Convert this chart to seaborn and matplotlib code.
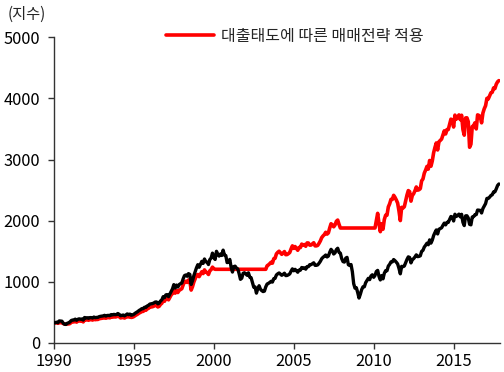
import numpy as np
import pandas as pd
import matplotlib
matplotlib.use("Agg")
import matplotlib.pyplot as plt
import seaborn as sns

# monthly closes, Jan 1990 - Nov 2017
index_vals = [
    329, 332, 340, 331, 361, 358, 356, 323, 306, 304, 322, 330,      # 1990
    344, 367, 375, 375, 390, 371, 388, 395, 388, 392, 375, 417,      # 1991
    409, 413, 404, 415, 415, 408, 424, 414, 418, 419, 431, 436,      # 1992
    439, 443, 452, 440, 450, 451, 448, 464, 459, 468, 462, 466,      # 1993
    482, 467, 446, 451, 457, 444, 458, 475, 463, 472, 454, 459,      # 1994
    470, 487, 501, 515, 533, 545, 562, 562, 584, 582, 605, 616,      # 1995
    636, 640, 645, 654, 669, 671, 640, 652, 687, 705, 757, 741,      # 1996
    786, 791, 757, 801, 848, 885, 954, 899, 947, 915, 955, 970,      # 1997
    980, 1049, 1102, 1112, 1091, 1134, 1121, 957, 1017, 1099, 1164, 1229,   # 1998
    1280, 1238, 1286, 1335, 1302, 1373, 1329, 1320, 1283, 1363, 1389, 1469,  # 1999
    1394, 1366, 1499, 1452, 1421, 1455, 1431, 1518, 1437, 1429, 1315, 1320,  # 2000
    1366, 1240, 1160, 1249, 1256, 1224, 1211, 1134, 1041, 1060, 1139, 1148,  # 2001
    1130, 1107, 1147, 1077, 1067, 990, 912, 916, 815, 886, 936, 880,        # 2002
    856, 841, 848, 917, 964, 975, 990, 1008, 996, 1051, 1058, 1112,         # 2003
    1131, 1145, 1126, 1107, 1121, 1141, 1102, 1104, 1115, 1130, 1174, 1212,  # 2004
    1181, 1204, 1181, 1157, 1192, 1191, 1234, 1220, 1229, 1207, 1249, 1248,  # 2005
    1280, 1281, 1295, 1311, 1270, 1270, 1277, 1304, 1336, 1378, 1401, 1418,  # 2006
    1438, 1407, 1421, 1482, 1531, 1503, 1455, 1474, 1527, 1549, 1481, 1468,  # 2007
    1379, 1331, 1323, 1386, 1400, 1280, 1267, 1283, 1166, 969, 896, 903,    # 2008
    826, 735, 798, 873, 919, 919, 987, 1021, 1057, 1036, 1096, 1115,        # 2009
    1074, 1104, 1169, 1187, 1089, 1031, 1102, 1049, 1141, 1183, 1181, 1258,  # 2010
    1286, 1327, 1326, 1364, 1345, 1321, 1292, 1219, 1131, 1253, 1247, 1258,  # 2011
    1312, 1366, 1408, 1398, 1310, 1362, 1379, 1407, 1441, 1412, 1416, 1426,  # 2012
    1498, 1515, 1569, 1598, 1631, 1606, 1686, 1633, 1682, 1757, 1806, 1848,  # 2013
    1783, 1859, 1872, 1884, 1924, 1960, 1931, 1972, 1972, 2018, 2068, 2059,  # 2014
    1995, 2105, 2068, 2086, 2107, 2063, 2104, 1972, 1920, 2079, 2080, 2044,  # 2015
    1940, 1932, 2060, 2065, 2097, 2099, 2174, 2171, 2168, 2126, 2199, 2239,  # 2016
    2279, 2364, 2363, 2384, 2412, 2423, 2470, 2472, 2519, 2575, 2600,       # 2017
]

strategy_vals = [
    329, 328, 332, 322, 335, 333, 330, 318, 310, 306, 310, 312,      # 1990
    317, 338, 345, 345, 359, 341, 357, 363, 357, 361, 345, 384,      # 1991
    376, 380, 372, 382, 382, 375, 390, 381, 385, 385, 397, 401,      # 1992
    404, 408, 416, 405, 414, 415, 412, 427, 422, 431, 425, 429,      # 1993
    443, 430, 410, 415, 420, 408, 421, 437, 426, 434, 418, 422,      # 1994
    432, 448, 461, 474, 490, 501, 517, 517, 537, 535, 557, 567,      # 1995
    585, 589, 593, 602, 615, 617, 589, 600, 632, 649, 696, 682,      # 1996
    730, 735, 705, 745, 785, 810, 865, 815, 855, 825, 860, 875,      # 1997
    888, 950, 1000, 1010, 990, 1030, 1018, 865, 920, 995, 1050, 1110,       # 1998
    1120, 1085, 1125, 1165, 1135, 1195, 1160, 1150, 1120, 1180, 1200, 1240,  # 1999
    1215, 1205, 1205, 1205, 1205, 1205, 1205, 1205, 1205, 1205, 1205, 1205,  # 2000
    1205, 1205, 1205, 1205, 1205, 1205, 1205, 1205, 1205, 1205, 1205, 1205,  # 2001
    1205, 1205, 1205, 1205, 1205, 1205, 1205, 1205, 1205, 1205, 1205, 1205,  # 2002
    1205, 1205, 1205, 1205, 1262, 1277, 1297, 1320, 1305, 1377, 1386, 1457,  # 2003
    1482, 1500, 1475, 1450, 1469, 1495, 1444, 1446, 1461, 1480, 1538, 1588,  # 2004
    1547, 1577, 1547, 1516, 1562, 1560, 1617, 1598, 1610, 1581, 1636, 1635,  # 2005
    1600, 1601, 1619, 1639, 1588, 1588, 1596, 1630, 1670, 1723, 1751, 1773,  # 2006
    1810, 1780, 1800, 1880, 1950, 1930, 1900, 1930, 1990, 2010, 1940, 1880,  # 2007
    1880, 1880, 1880, 1880, 1880, 1880, 1880, 1880, 1880, 1880, 1880, 1880,  # 2008
    1880, 1880, 1880, 1880, 1880, 1880, 1880, 1880, 1880, 1880, 1880, 1880,  # 2009
    1880, 1880, 2000, 2120, 1950, 1820, 1950, 1860, 2020, 2090, 2090, 2225,  # 2010
    2276, 2349, 2347, 2414, 2381, 2338, 2287, 2158, 2002, 2218, 2207, 2227,  # 2011
    2322, 2418, 2492, 2474, 2319, 2411, 2441, 2490, 2551, 2499, 2506, 2524,  # 2012
    2651, 2682, 2777, 2828, 2887, 2843, 2984, 2890, 2977, 3110, 3197, 3271,  # 2013
    3156, 3290, 3313, 3335, 3405, 3469, 3418, 3490, 3490, 3572, 3660, 3644,  # 2014
    3531, 3726, 3660, 3692, 3729, 3652, 3724, 3490, 3398, 3680, 3682, 3618,  # 2015
    3200, 3250, 3540, 3550, 3600, 3500, 3730, 3720, 3700, 3600, 3760, 3830,  # 2016
    3880, 4000, 3990, 4040, 4090, 4100, 4170, 4160, 4230, 4270, 4290,       # 2017
]

year_ticks = [1990, 1995, 2000, 2005, 2010, 2015]
y_ticks = [0, 1000, 2000, 3000, 4000, 5000]
legend_label = "대출태도에 따른 매매전략 적용"

# decimal year for each month
t = 1990 + np.arange(len(index_vals)) / 12.0
df = pd.DataFrame({"t": t, "index": index_vals, "strategy": strategy_vals})

sns.set_style("ticks")
plt.rcParams["font.family"] = ["Noto Sans CJK KR", "DejaVu Sans"]

fig = plt.figure(figsize=(5.04, 3.72), dpi=100)
ax = fig.add_axes([0.107, 0.078, 0.885, 0.822])

sns.lineplot(data=df, x="t", y="strategy", color="#ff0000", lw=2.6,
             label=legend_label, ax=ax, zorder=2)
sns.lineplot(data=df, x="t", y="index", color="#000000", lw=2.4,
             ax=ax, zorder=3, legend=False)

ax.set_xlim(1990, 2017.9)
ax.set_ylim(0, 5000)
ax.set_xticks(year_ticks)
ax.set_yticks(y_ticks)
ax.tick_params(axis="both", labelsize=11.8, length=4, width=1, colors="#333333",
               labelcolor="black", direction="out")
ax.tick_params(axis="y", pad=6)
ax.tick_params(axis="x", pad=3)
ax.set_xlabel("")
ax.set_ylabel("")
sns.despine(ax=ax)
for s in ["left", "bottom"]:
    ax.spines[s].set_color("#333333")
    ax.spines[s].set_linewidth(1)

fig.text(0.016, 0.962, "(지수)", fontsize=11, ha="left", va="center")

ax.legend(loc="center", bbox_to_anchor=(0.54, 1.003), frameon=False,
          fontsize=11.5, handlelength=3.0, handletextpad=0.4)

fig.savefig("out.png", dpi=100)
